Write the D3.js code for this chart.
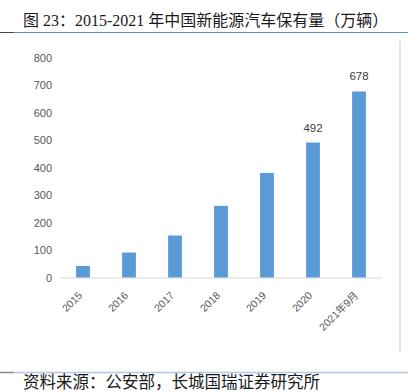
<!DOCTYPE html>
<html>
<head>
<meta charset="utf-8">
<script src="https://cdn.jsdelivr.net/npm/d3@7"></script>
<style>
  body { margin: 0; background: #fff; }
  svg { display: block; }
</style>
</head>
<body>
<div id="chart"></div>
<script>
const width = 412;
const height = 392;

// data
const years = ["2015", "2016", "2017", "2018", "2019", "2020", "2021年9月"];
const stock = [42, 91, 153, 261, 381, 492, 678];
const labelled = ["2020", "2021年9月"];
const yTicks = [0, 100, 200, 300, 400, 500, 600, 700, 800];

const svg = d3.select("#chart")
    .append("svg")
    .attr("width", width)
    .attr("height", height);

// title + rule
svg.append("text")
    .attr("x", 23)
    .attr("y", 25.5)
    .attr("font-family", "'Liberation Serif', 'Noto Sans CJK SC', serif")
    .attr("font-size", 16)
    .attr("fill", "#1a1a1a")
    .text("图 23：2015-2021 年中国新能源汽车保有量（万辆）");

svg.append("line").attr("x1", 0).attr("x2", 14).attr("y1", 32.5).attr("y2", 32.5)
    .attr("stroke", "#444").attr("stroke-width", 1);
svg.append("line").attr("x1", 14).attr("x2", 408).attr("y1", 32.5).attr("y2", 32.5)
    .attr("stroke", "#5b8fd0").attr("stroke-width", 1);

// frame edge on the right
svg.append("line").attr("x1", 400).attr("x2", 400).attr("y1", 40).attr("y2", 352)
    .attr("stroke", "#c8c8c8").attr("stroke-width", 1);

const x = d3.scaleBand()
    .domain(years)
    .range([60, 382])
    .paddingInner(0.7)
    .paddingOuter(0.35);

const y = d3.scaleLinear()
    .domain([0, 800])
    .range([277.5, 58]);

// y axis labels
const yAxis = svg.append("g")
    .attr("transform", "translate(52,0)")
    .call(d3.axisLeft(y).tickValues(yTicks).tickSize(0).tickPadding(0));
yAxis.select(".domain").remove();
yAxis.selectAll("text")
    .attr("font-family", "Arial, 'Liberation Sans', sans-serif")
    .attr("font-size", 11)
    .attr("fill", "#595959");

// baseline
svg.append("line")
    .attr("x1", 60).attr("x2", 382)
    .attr("y1", y(0) + 0.5).attr("y2", y(0) + 0.5)
    .attr("stroke", "#d9d9d9").attr("stroke-width", 1);

// bars
svg.append("g")
    .selectAll("rect")
    .data(years)
    .enter()
    .append("rect")
    .attr("x", d => x(d))
    .attr("width", x.bandwidth())
    .attr("y", (d, i) => y(stock[i]))
    .attr("height", (d, i) => y(0) - y(stock[i]))
    .attr("fill", "#5b9bd5");

// value labels on last two bars
svg.append("g")
    .selectAll("text")
    .data(years.filter(d => labelled.includes(d)))
    .enter()
    .append("text")
    .attr("x", d => x(d) + x.bandwidth() / 2)
    .attr("y", d => y(stock[years.indexOf(d)]) - 11)
    .attr("text-anchor", "middle")
    .attr("font-family", "Arial, 'Liberation Sans', sans-serif")
    .attr("font-size", 11.5)
    .attr("fill", "#404040")
    .text(d => stock[years.indexOf(d)]);

// x axis labels, rotated
const xAxis = svg.append("g")
    .attr("transform", `translate(0,${y(0) + 6})`)
    .call(d3.axisBottom(x).tickSize(0).tickPadding(0));
xAxis.select(".domain").remove();
xAxis.selectAll("text")
    .attr("font-family", "Arial, 'Liberation Sans', 'Noto Sans CJK SC', sans-serif")
    .attr("font-size", 10.5)
    .attr("fill", "#595959")
    .attr("text-anchor", "end")
    .attr("y", 0)
    .attr("dy", 0)
    .attr("transform", "translate(0,12.5) rotate(-45)");

// bottom rule + source
svg.append("line").attr("x1", 0).attr("x2", 14).attr("y1", 372.5).attr("y2", 372.5)
    .attr("stroke", "#888").attr("stroke-width", 1.5);
svg.append("line").attr("x1", 14).attr("x2", 408).attr("y1", 372.5).attr("y2", 372.5)
    .attr("stroke", "#b4c7e7").attr("stroke-width", 1.5);

svg.append("text")
    .attr("x", 23)
    .attr("y", 387.5)
    .attr("font-family", "'Noto Sans CJK SC', sans-serif")
    .attr("font-size", 16.5)
    .attr("fill", "#1a1a1a")
    .text("资料来源：公安部，长城国瑞证券研究所");
</script>
</body>
</html>
